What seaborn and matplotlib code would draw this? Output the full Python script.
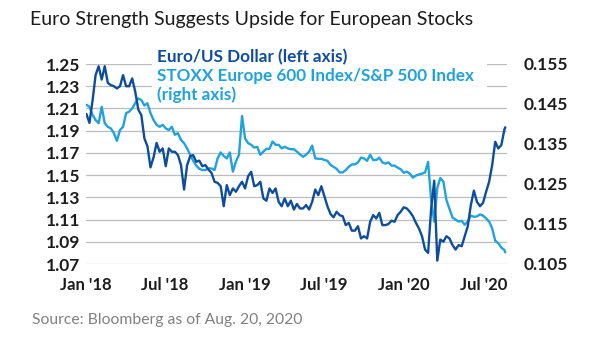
import matplotlib
matplotlib.use("Agg")
import matplotlib.pyplot as plt
import matplotlib.dates as mdates
from matplotlib.patches import Rectangle
import numpy as np
import pandas as pd
import seaborn as sns

# ---------------- data (weekly readings, Jan 2 2018 .. Aug 20 2020) ----------------
week_start = "2018-01-02"
last_date = "2020-08-20"

eur_usd = [
    1.205, 1.197, 1.217, 1.240, 1.248, 1.236, 1.248, 1.233, 1.231, 1.230,
    1.228, 1.230, 1.240, 1.230, 1.230, 1.237, 1.225, 1.209, 1.204, 1.183,
    1.176, 1.157, 1.166, 1.179, 1.171, 1.174, 1.158, 1.174, 1.171, 1.171,
    1.168, 1.159, 1.137, 1.159, 1.167, 1.168, 1.162, 1.163, 1.158, 1.159,
    1.155, 1.152, 1.144, 1.143, 1.140, 1.122, 1.141, 1.132, 1.138, 1.135,
    1.140, 1.144, 1.138, 1.149, 1.153, 1.140, 1.141, 1.144, 1.129, 1.127,
    1.138, 1.134, 1.138, 1.126, 1.122, 1.129, 1.122, 1.127, 1.119, 1.124,
    1.120, 1.120, 1.123, 1.119, 1.126, 1.137, 1.132, 1.140, 1.131, 1.122,
    1.115, 1.112, 1.117, 1.114, 1.113, 1.105, 1.107, 1.100, 1.100, 1.104,
    1.093, 1.095, 1.093, 1.108, 1.114, 1.111, 1.116, 1.105, 1.105, 1.106,
    1.109, 1.108, 1.114, 1.117, 1.121, 1.120, 1.117, 1.113, 1.107, 1.102,
    1.095, 1.083, 1.080, 1.120, 1.145, 1.073, 1.092, 1.090, 1.095, 1.093,
    1.087, 1.083, 1.087, 1.086, 1.095, 1.104, 1.123, 1.136, 1.126, 1.122,
    1.125, 1.135, 1.144, 1.159, 1.180, 1.174, 1.177, 1.191, 1.193,
]

stoxx_spx = [
    0.1448, 0.1443, 0.1423, 0.1410, 0.1402, 0.1443, 0.1402, 0.1393, 0.1389, 0.1377,
    0.1358, 0.1385, 0.1393, 0.1427, 0.1431, 0.1439, 0.1452, 0.1464, 0.1460, 0.1446,
    0.1452, 0.1427, 0.1410, 0.1398, 0.1393, 0.1398, 0.1389, 0.1385, 0.1393, 0.1373,
    0.1377, 0.1360, 0.1352, 0.1339, 0.1323, 0.1308, 0.1296, 0.1288, 0.1285, 0.1285,
    0.1289, 0.1289, 0.1285, 0.1314, 0.1329, 0.1320, 0.1314, 0.1329, 0.1281, 0.1306,
    0.1323, 0.1420, 0.1364, 0.1352, 0.1348, 0.1341, 0.1343, 0.1323, 0.1331, 0.1338,
    0.1338, 0.1356, 0.1348, 0.1348, 0.1339, 0.1343, 0.1339, 0.1337, 0.1337, 0.1331,
    0.1324, 0.1318, 0.1323, 0.1331, 0.1346, 0.1314, 0.1313, 0.1313, 0.1310, 0.1308,
    0.1298, 0.1293, 0.1288, 0.1279, 0.1279, 0.1285, 0.1293, 0.1299, 0.1299, 0.1304,
    0.1316, 0.1314, 0.1308, 0.1323, 0.1310, 0.1310, 0.1316, 0.1304, 0.1301, 0.1304,
    0.1296, 0.1296, 0.1291, 0.1287, 0.1278, 0.1281, 0.1276, 0.1266, 0.1271, 0.1274,
    0.1276, 0.1279, 0.1305, 0.1210, 0.1156, 0.1240, 0.1265, 0.1256, 0.1210, 0.1188,
    0.1166, 0.1161, 0.1156, 0.1158, 0.1148, 0.1156, 0.1171, 0.1168, 0.1169, 0.1174,
    0.1171, 0.1164, 0.1156, 0.1139, 0.1108, 0.1102, 0.1091, 0.1085, 0.1079,
]

left_ticks = [1.07, 1.09, 1.11, 1.13, 1.15, 1.17, 1.19, 1.21, 1.23, 1.25]
right_ticks = [0.105, 0.115, 0.125, 0.135, 0.145, 0.155]
x_tick_dates = ["2018-01-01", "2018-07-01", "2019-01-01", "2019-07-01", "2020-01-01", "2020-07-01"]
x_tick_labels = ["Jan '18", "Jul '18", "Jan '19", "Jul '19", "Jan '20", "Jul '20"]

title = "Euro Strength Suggests Upside for European Stocks"
legend_eur = "Euro/US Dollar (left axis)"
legend_stoxx_1 = "STOXX Europe 600 Index/S&P 500 Index"
legend_stoxx_2 = "(right axis)"
source = "Source: Bloomberg as of Aug. 20, 2020"

# ---------------- build frame ----------------
dates = list(pd.date_range(week_start, periods=len(eur_usd) - 1, freq="7D")) + [pd.Timestamp(last_date)]
df = pd.DataFrame({"date": mdates.date2num(pd.to_datetime(dates).to_pydatetime()),
                   "eur": eur_usd, "stoxx": stoxx_spx})

dark = "#0e4d9c"
light = "#1fa2de"
text_dark = "#1c1c1c"

sns.set_style("white")
plt.rcParams["font.family"] = ["Lato", "DejaVu Sans"]

W, H = 605, 341
fig = plt.figure(figsize=(W / 100, H / 100), dpi=100)
L, R, T, B = 86, 507, 64, 264
ax = fig.add_axes([L / W, 1 - B / H, (R - L) / W, (B - T) / H])

ax.set_ylim(1.07, 1.25)
ax.set_yticks(left_ticks, [f"{v:.2f}" for v in left_ticks],
              fontsize=12.5, fontweight="bold", color=text_dark)
ax.yaxis.grid(True, color="#bdbdbd", lw=0.9)
ax.xaxis.grid(False)
ax.set_axisbelow(True)
ax.tick_params(axis="y", length=0, pad=4)
ax.tick_params(axis="x", length=0, pad=9)
for s in ax.spines.values():
    s.set_visible(False)

x0 = mdates.date2num(pd.Timestamp("2018-01-01").to_pydatetime())
x1 = mdates.date2num(pd.Timestamp("2020-08-24").to_pydatetime())
ax.set_xlim(x0, x1)
xt = mdates.date2num(pd.to_datetime(x_tick_dates).to_pydatetime())
ax.set_xticks(xt, x_tick_labels, fontsize=12, fontweight="bold", color=text_dark)

# white box behind legend text
ax.add_patch(Rectangle(((152 - L) / (R - L), (B - 103) / (B - T)),
                       (487 - 152) / (R - L), 0.26, transform=ax.transAxes,
                       facecolor="white", edgecolor="none", zorder=0.8, clip_on=False))

# right axis: STOXX/S&P ratio
ax2 = ax.twinx()
sns.lineplot(data=df, x="date", y="stoxx", ax=ax2, color=light, lw=1.7)
ax2.set_ylim(0.105, 0.155)
ax2.set_yticks(right_ticks, [f"{v:.3f}" for v in right_ticks],
               fontsize=12.5, fontweight="bold", color=text_dark)
ax2.tick_params(axis="y", length=0, pad=12)
ax2.set_ylabel("")
for s in ax2.spines.values():
    s.set_visible(False)

# EUR/USD on left scale, drawn on top
ax3 = ax.twinx()
sns.lineplot(data=df, x="date", y="eur", ax=ax3, color=dark, lw=1.7)
ax3.set_ylim(1.07, 1.25)
ax3.set_yticks([])
ax3.set_ylabel("")
for s in ax3.spines.values():
    s.set_visible(False)
ax.set_xlim(x0, x1)
ax.set_xlabel("")

fig.text(30 / W, 1 - 20 / H, title, fontsize=14, color=text_dark, va="center", ha="left")
fig.text(157 / W, 1 - 57 / H, legend_eur, fontsize=12.3, fontweight="bold", color=dark,
         va="center", ha="left")
fig.text(157 / W, 1 - 76 / H, legend_stoxx_1, fontsize=12.3, fontweight="bold", color=light,
         va="center", ha="left")
fig.text(157 / W, 1 - 95 / H, legend_stoxx_2, fontsize=12.3, fontweight="bold", color=light,
         va="center", ha="left")
fig.text(32 / W, 1 - 320 / H, source, fontsize=11.3, color="#808080", va="center", ha="left")

fig.savefig("out.png", dpi=100, facecolor="white")
